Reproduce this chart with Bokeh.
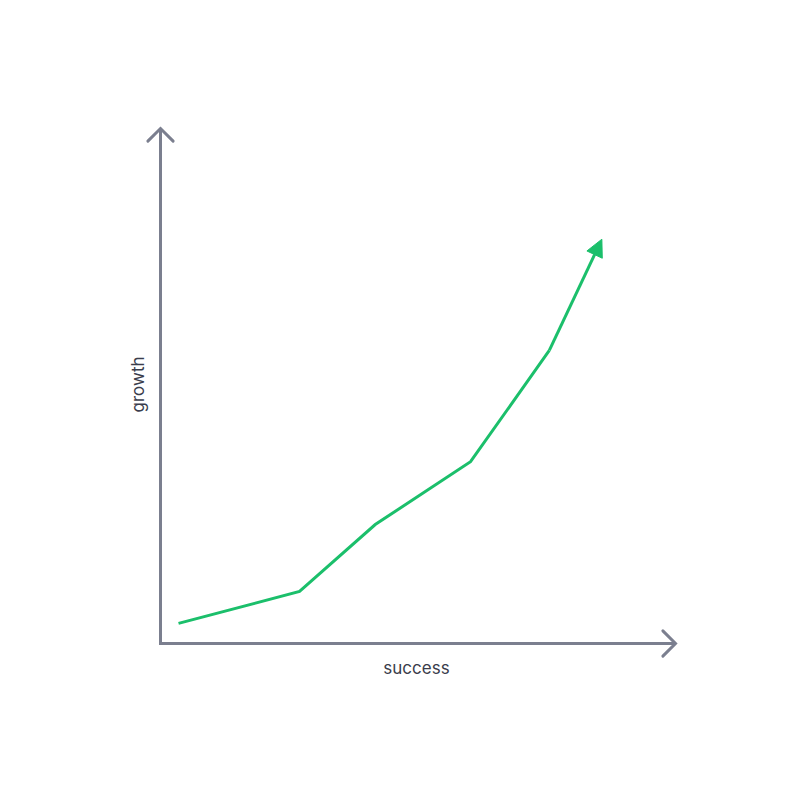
import math
from bokeh.plotting import figure
from bokeh.models import Arrow, NormalHead, Range1d
from bokeh.core.properties import value
from bokeh.embed import file_html
from bokeh.resources import INLINE

# data (abstract units)
success = [0.35, 2.70, 4.17, 6.02, 7.55, 8.57]
growth = [0.39, 1.01, 2.31, 3.53, 5.69, 7.85]
axis_len = 10.0
x_label = "success"
y_label = "growth"

AXIS_COLOR = "#7b7f8f"
LINE_COLOR = "#1bbf6b"
TEXT_COLOR = "#3a3d4c"

W = H = 784
scale = 51.5  # px per unit
x0 = -160 / scale
y0 = -(H - 643) / scale

p = figure(width=W, height=H, output_backend="svg", toolbar_location=None,
           x_range=Range1d(x0, x0 + W / scale), y_range=Range1d(y0, y0 + H / scale),
           min_border=0)
p.axis.visible = False
p.grid.visible = False
p.outline_line_color = None
p.background_fill_color = "white"

# axes as an L-shape
p.line([0, 0, axis_len], [axis_len, 0, 0], line_color=AXIS_COLOR, line_width=3,
       line_join="miter")
h = 0.245
p.multi_line([[-h, 0, h], [axis_len - h, axis_len, axis_len - h]],
             [[axis_len - h, axis_len, axis_len - h], [-h, 0, h]],
             line_color=AXIS_COLOR, line_width=3, line_join="miter", line_cap="round")

# growth line
p.line(success[:-1], growth[:-1], line_color=LINE_COLOR, line_width=3, line_join="miter")
p.add_layout(Arrow(x_start=success[-2], y_start=growth[-2], x_end=success[-1], y_end=growth[-1],
                   line_color=LINE_COLOR, line_width=3,
                   end=NormalHead(size=17, fill_color=LINE_COLOR, line_color=LINE_COLOR, line_width=1)))

# labels
p.text([axis_len / 2 - 0.03], [-0.47], text=[x_label], text_align="center", text_baseline="middle",
       text_font=value("Inter"), text_font_size="17px", text_color=TEXT_COLOR)
p.text([-0.43], [axis_len / 2 + 0.03], text=[y_label], angle=math.pi / 2, text_align="center",
       text_baseline="middle", text_font=value("Inter"), text_font_size="17px", text_color=TEXT_COLOR)

open("out.html", "w").write(file_html(p, INLINE))
